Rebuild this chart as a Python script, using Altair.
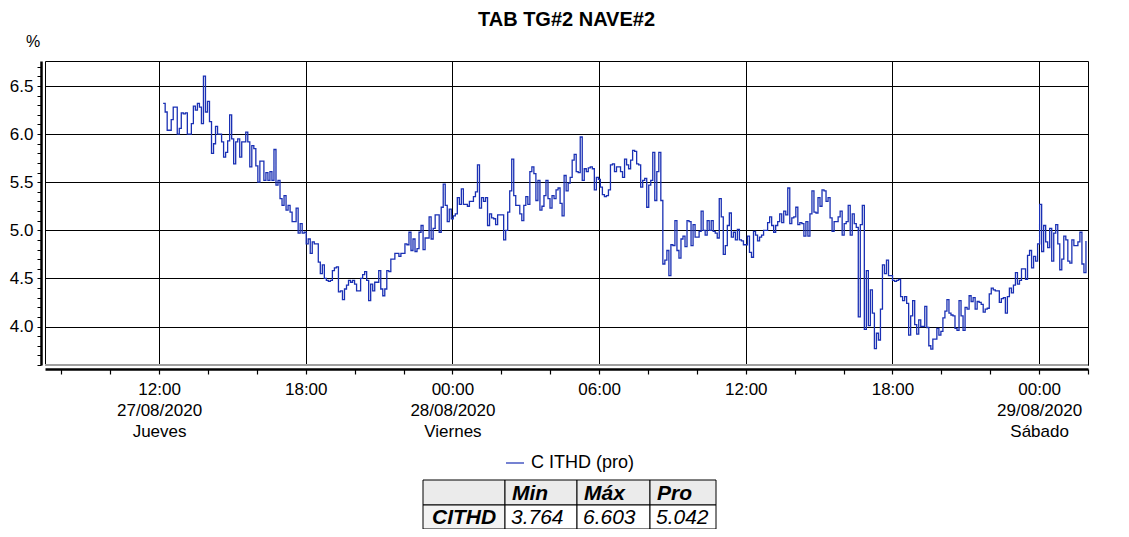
import altair as alt
import pandas as pd

# ---------------- data ----------------
title_text = "TAB TG#2 NAVE#2"
unit_label = "%"
series_label = "C ITHD (pro)"
table_row = "CITHD"
table_cols = ["Min", "Máx", "Pro"]
table_vals = ["3.764", "6.603", "5.042"]
day_names = ["Domingo", "Lunes", "Martes", "Miércoles", "Jueves", "Viernes", "Sábado"]

start_time = "2020-08-27 12:10"
end_time = "2020-08-29 01:55"

sec1 = [6.32, 6.23, 6.04, 6.04, 6.15, 6.28, 6.28, 6.0, 6.06, 6.22, 6.21, 6.22, 6.0, 6.0, 6.11, 6.29,
        6.25, 6.32, 6.28, 6.11, 6.603, 6.23, 6.34, 6.13, 5.8, 5.9, 6.08, 6.0, 6.0, 5.92, 5.76, 5.81,
        5.93, 6.2, 5.95, 5.69, 5.92, 5.95, 5.76, 5.92, 5.92, 6.02, 5.92, 5.66, 5.88, 5.85, 5.67, 5.5,
        5.72, 5.72, 5.52, 5.6, 5.52, 5.61, 5.52, 5.84]
sec2 = [5.47, 5.52, 5.33, 5.26, 5.36, 5.21, 5.26, 5.19, 5.09, 5.09, 5.23, 4.97, 5.07, 4.97, 4.98, 4.86,
        4.91, 4.76, 4.88, 4.86, 4.86, 4.67, 4.55, 4.64, 4.5, 4.48, 4.47, 4.48, 4.58, 4.61, 4.62, 4.36,
        4.37, 4.28, 4.39, 4.43, 4.48, 4.46, 4.48, 4.44, 4.37, 4.37, 4.5, 4.54, 4.57, 4.48, 4.27, 4.44,
        4.37, 4.46, 4.46, 4.58, 4.39, 4.32, 4.39, 4.58, 4.57, 4.7, 4.7]
sec3 = [4.76, 4.76, 4.73, 4.76, 4.76, 4.86, 4.85, 4.98, 4.79, 4.91, 4.78, 4.81, 4.98, 5.05, 4.8, 4.92,
        4.92, 5.14, 4.91, 5.02, 5.16, 5.16, 4.98, 5.24, 5.48, 5.26, 5.09, 5.22, 5.12, 5.15, 5.17, 5.34,
        5.27, 5.43, 5.27, 5.27, 5.25, 5.3, 5.3, 5.35, 5.4, 5.68, 5.23, 5.34, 5.3, 5.34, 5.05, 5.17,
        5.13, 5.12, 5.06, 5.16, 5.16, 5.16, 4.9, 5.0, 5.19, 5.41, 5.74]
sec4 = [5.36, 5.26, 5.26, 5.17, 5.1, 5.26, 5.35, 5.27, 5.61, 5.66, 5.59, 5.31, 5.52, 5.21, 5.25, 5.36,
        5.52, 5.33, 5.23, 5.36, 5.33, 5.42, 5.44, 5.28, 5.15, 5.57, 5.41, 5.49, 5.55, 5.73, 5.79, 5.61,
        5.6, 5.97, 5.52, 5.64, 5.61, 5.65, 5.66, 5.64, 5.42, 5.55, 5.53, 5.45, 5.37, 5.35, 5.36, 5.42,
        5.68, 5.69, 5.61, 5.66, 5.66, 5.61, 5.55, 5.74, 5.68, 5.64, 5.73, 5.83]
sec5 = [5.82, 5.69, 5.68, 5.45, 5.52, 5.54, 5.24, 5.47, 5.52, 5.81, 5.31, 5.61, 5.81, 5.31, 4.65, 4.69,
        4.79, 4.53, 4.85, 4.84, 5.1, 4.79, 4.71, 4.91, 4.94, 4.83, 5.1, 5.09, 4.84, 5.06, 4.93, 4.93,
        4.99, 5.2, 5.0, 4.95, 5.1, 5.0, 5.1, 4.99, 4.97, 4.92, 5.33, 5.14, 4.75, 4.84, 5.05, 5.18,
        4.93, 4.98, 4.9, 5.01, 4.9, 4.89, 4.85, 4.85, 4.94, 4.77, 4.72]
sec6 = [4.99, 4.95, 4.89, 4.93, 4.95, 5.0, 5.0, 5.08, 5.14, 5.05, 4.98, 5.05, 5.09, 5.17, 5.08, 5.2,
        5.16, 5.44, 5.07, 5.13, 5.14, 5.24, 5.06, 5.08, 5.07, 4.94, 5.09, 4.94, 5.17, 5.41, 5.19, 5.18,
        5.34, 5.25, 5.42, 5.41, 5.3, 5.34, 5.13, 4.99, 5.09, 5.09, 5.14, 5.2, 4.95, 5.07, 5.09, 5.26,
        4.95, 5.17, 5.07, 5.03, 4.1, 5.06, 5.26, 3.97, 4.58, 4.01, 4.38, 4.14, 3.77]
sec7 = [3.93, 3.86, 4.18, 4.64, 4.55, 4.69, 4.53, 4.53, 4.48, 4.47, 4.48, 4.49, 4.31, 4.27, 4.31, 4.24,
        3.91, 4.11, 4.27, 4.02, 3.92, 4.07, 4.0, 4.0, 4.21, 3.99, 3.8, 3.764, 3.87, 3.87, 3.98, 3.91,
        3.95, 4.09, 4.16, 4.28, 4.14, 4.12, 4.11, 3.98, 3.96, 4.27, 4.11, 3.96, 4.2, 4.18, 4.32, 4.26,
        4.3, 4.18, 4.26, 4.25, 4.23, 4.15, 4.18, 4.19, 4.34, 4.4, 4.38]
sec8 = [4.37, 4.37, 4.25, 4.29, 4.3, 4.14, 4.31, 4.4, 4.35, 4.43, 4.56, 4.44, 4.48, 4.6, 4.6, 4.49,
        4.74, 4.79, 4.61, 4.73, 4.68, 4.86, 5.27, 4.78, 5.05, 4.88, 4.82, 5.02, 4.68, 4.97, 5.06, 4.86,
        4.59, 4.7, 4.94, 4.9, 4.68, 4.66, 4.9, 4.84, 4.84, 4.88, 4.98, 4.65, 4.56, 4.89]

values = sec1 + sec2 + sec3 + sec4 + sec5 + sec6 + sec7 + sec8
times = pd.date_range(start_time, end_time, periods=len(values))
df = pd.DataFrame({"t": times, "v": values})

# ---------------- layout ----------------
PLOT_W = 1043
PLOT_H = 304
FONT = "Liberation Sans"
LINE_COLOR = "#1a30b4"

x_domain = [alt.DateTime(year=2020, month=8, date=27, hours=7, minutes=20),
            alt.DateTime(year=2020, month=8, date=29, hours=2, minutes=0)]
x_ticks = []
for d in (27, 28, 29):
    for h in range(0, 24, 2):
        if (d == 27 and h < 8) or (d == 29 and h > 2):
            continue
        x_ticks.append(alt.DateTime(year=2020, month=8, date=d, hours=h))

y_ticks = [round(3.6 + 0.1 * i, 1) for i in range(32)]

days_js = "[" + ",".join("'" + n + "'" for n in day_names) + "]"
x_label_expr = (
    "hours(datum.value) % 6 != 0 ? '' : "
    "((hours(datum.value) == 0 || (date(datum.value) == 27 && hours(datum.value) == 12)) ? "
    "[timeFormat(datum.value, '%H:%M'), timeFormat(datum.value, '%d/%m/%Y'), "
    + days_js + "[day(datum.value)]] : timeFormat(datum.value, '%H:%M'))"
)
y_major_test = "abs(datum.value * 2 - round(datum.value * 2)) < 0.001"

line = alt.Chart(df).mark_line(
    interpolate="step-after", color=LINE_COLOR, strokeWidth=1.3
).encode(
    x=alt.X("t:T", title=None,
            scale=alt.Scale(domain=x_domain),
            axis=alt.Axis(values=x_ticks, labelExpr=x_label_expr,
                          grid=True, gridColor="black", gridWidth=1,
                          gridOpacity={"condition": {"test": "hours(datum.value) % 6 == 0", "value": 1}, "value": 0},
                          domainColor="black", domainWidth=2.5, offset=4,
                          tickColor="black", tickSize=5, tickWidth=1.2,
                          labelFont=FONT, labelFontSize=17, labelColor="black",
                          labelLineHeight=21, labelBaseline="top", labelPadding=7,
                          labelOverlap=False, labelFlush=False, labelAngle=0)),
    y=alt.Y("v:Q", title=None,
            scale=alt.Scale(domain=[3.6, 6.76], nice=False, zero=False),
            axis=alt.Axis(values=y_ticks,
                          labelExpr=y_major_test + " ? format(datum.value, '.1f') : ''",
                          grid=True, gridColor="black", gridWidth=1,
                          gridOpacity={"condition": {"test": y_major_test, "value": 1}, "value": 0},
                          domainColor="black", domainWidth=2.5, offset=4,
                          tickColor="black", tickSize=4, tickWidth=1,
                          labelFont=FONT, labelFontSize=17, labelColor="black",
                          labelPadding=4, labelOverlap=False, labelFlush=False)),
)

one = pd.DataFrame({"k": [0]})

bottom_edge = alt.Chart(one).mark_rule(color="#a0a0a0", strokeWidth=2).encode(
    x=alt.value(0), x2=alt.value(PLOT_W), y=alt.value(PLOT_H))

title = alt.Chart(pd.DataFrame({"s": [title_text]})).mark_text(
    font=FONT, fontSize=20, fontWeight="bold", color="black", align="center", baseline="middle"
).encode(x=alt.value(PLOT_W / 2), y=alt.value(-41), text="s:N")

unit = alt.Chart(pd.DataFrame({"s": [unit_label]})).mark_text(
    font=FONT, fontSize=16, color="black", align="center", baseline="middle"
).encode(x=alt.value(-12), y=alt.value(-19), text="s:N")

legend_line = alt.Chart(one).mark_rule(color=LINE_COLOR, strokeWidth=1.2).encode(
    x=alt.value(461), x2=alt.value(479), y=alt.value(402))
legend_text = alt.Chart(pd.DataFrame({"s": [series_label]})).mark_text(
    font=FONT, fontSize=18, color="black", align="left", baseline="middle"
).encode(x=alt.value(486), y=alt.value(402), text="s:N")

# table geometry (chart coordinates)
col_edges = [378, 460, 532, 605, 671]
row_edges = [419, 444, 468]

layers = [line, bottom_edge, title, unit, legend_line, legend_text]

for r in range(2):
    for c in range(4):
        if c == 0:
            fill = "#ebebeb" if r == 0 else "#f3f3f3"
        else:
            fill = "#ebebeb" if r == 0 else "white"
        layers.append(
            alt.Chart(one).mark_rect(fill=fill, stroke="black", strokeWidth=1).encode(
                x=alt.value(col_edges[c]), x2=alt.value(col_edges[c + 1]),
                y=alt.value(row_edges[r]), y2=alt.value(row_edges[r + 1]))
        )

for c, txt in enumerate(table_cols):
    layers.append(
        alt.Chart(pd.DataFrame({"s": [txt]})).mark_text(
            font=FONT, fontSize=21, fontWeight="bold", fontStyle="italic", color="black",
            align="left", baseline="middle"
        ).encode(x=alt.value(col_edges[c + 1] + 7), y=alt.value((row_edges[0] + row_edges[1]) / 2 + 1), text="s:N")
    )
layers.append(
    alt.Chart(pd.DataFrame({"s": [table_row]})).mark_text(
        font=FONT, fontSize=21, fontWeight="bold", fontStyle="italic", color="black",
        align="left", baseline="middle"
    ).encode(x=alt.value(col_edges[0] + 9), y=alt.value((row_edges[1] + row_edges[2]) / 2 + 1), text="s:N")
)
for c, txt in enumerate(table_vals):
    layers.append(
        alt.Chart(pd.DataFrame({"s": [txt]})).mark_text(
            font=FONT, fontSize=21, fontStyle="italic", color="black",
            align="left", baseline="middle"
        ).encode(x=alt.value(col_edges[c + 1] + 6), y=alt.value((row_edges[1] + row_edges[2]) / 2 + 1), text="s:N")
    )

chart = alt.layer(*layers).properties(
    width=PLOT_W, height=PLOT_H,
    autosize=alt.AutoSizeParams(type="none"),
    padding={"left": 37, "top": 53, "right": 33, "bottom": 164},
    background="white",
).configure_view(stroke="black", strokeWidth=1)

chart.save("out.html", embed_options={"renderer": "svg", "actions": False})
